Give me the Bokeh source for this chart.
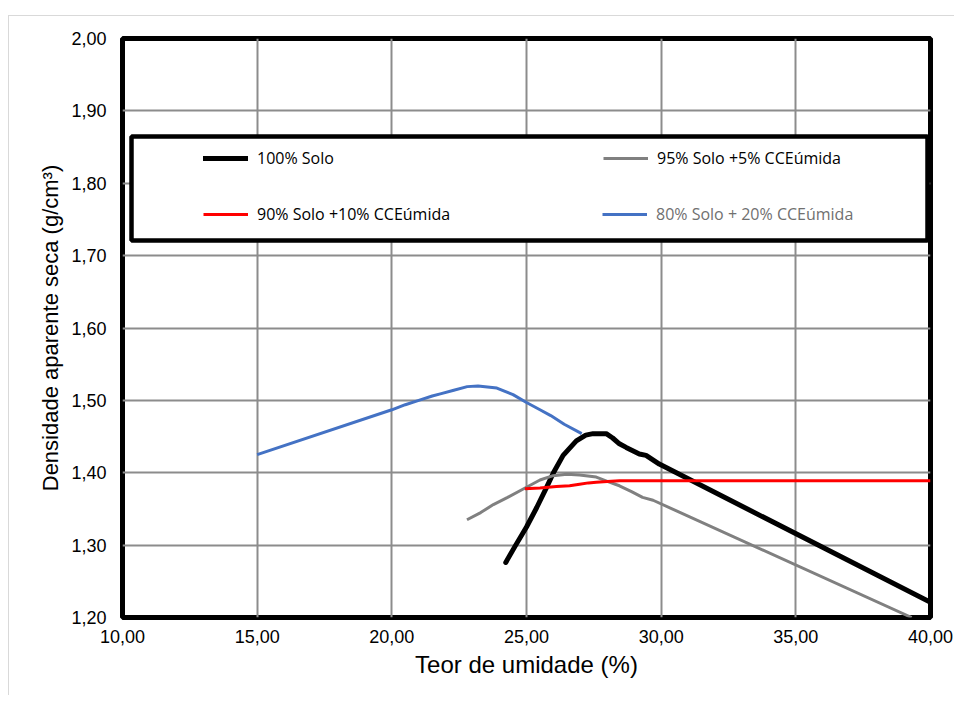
from bokeh.plotting import figure
from bokeh.models import (FixedTicker, Legend, LegendItem, BoxAnnotation, Range1d)
from bokeh.embed import file_html
from bokeh.resources import INLINE

# ---- data ----
solo_x = [24.23, 24.6, 25.0, 25.38, 25.75, 26.0, 26.36, 26.85, 27.2, 27.47, 27.96, 28.2, 28.45, 28.7, 29.19, 29.44, 29.93, 40.0]
solo_y = [1.276, 1.300, 1.325, 1.352, 1.380, 1.400, 1.424, 1.444, 1.452, 1.454, 1.454, 1.448, 1.440, 1.435, 1.426, 1.424, 1.412, 1.221]

s95_x = [22.79, 23.3, 23.77, 24.3, 25.0, 25.5, 25.99, 26.5, 26.97, 27.59, 28.0, 28.45, 28.9, 29.31, 29.7, 39.3]
s95_y = [1.335, 1.345, 1.356, 1.366, 1.380, 1.390, 1.396, 1.398, 1.397, 1.394, 1.388, 1.382, 1.374, 1.366, 1.362, 1.200]

s90_x = [24.94, 25.5, 26.11, 26.6, 26.97, 27.3, 27.59, 28.0, 28.45, 40.0]
s90_y = [1.378, 1.379, 1.381, 1.382, 1.384, 1.386, 1.387, 1.388, 1.389, 1.389]

s80_x = [15.0, 20.0, 20.5, 21.0, 21.5, 21.8, 22.3, 22.8, 23.2, 23.9, 24.5, 25.0, 25.5, 25.9, 26.4, 27.05]
s80_y = [1.425, 1.487, 1.494, 1.500, 1.506, 1.509, 1.514, 1.519, 1.520, 1.517, 1.508, 1.497, 1.487, 1.479, 1.467, 1.454]

x_ticks = [10, 15, 20, 25, 30, 35, 40]
x_tick_labels = ["10,00", "15,00", "20,00", "25,00", "30,00", "35,00", "40,00"]
y_ticks = [1.2, 1.3, 1.4, 1.5, 1.6, 1.7, 1.8, 1.9, 2.0]
y_tick_labels = ["1,20", "1,30", "1,40", "1,50", "1,60", "1,70", "1,80", "1,90", "2,00"]

labels = ["100% Solo", "95% Solo +5% CCEúmida", "90% Solo +10% CCEúmida", "80% Solo + 20% CCEúmida"]

# ---- figure ----
p = figure(width=946, height=680, output_backend="svg", toolbar_location=None,
           x_range=Range1d(10, 40), y_range=Range1d(1.2, 2.0),
           min_border_left=113, min_border_right=25, min_border_top=22, min_border_bottom=79,
           styles={"position": "absolute", "left": "8px", "top": "15px",
                   "border-top": "1px solid #d9d9d9",
                   "border-left": "1px solid #d9d9d9"})
p.background_fill_color = "white"
p.border_fill_color = "white"
p.outline_line_color = "black"
p.outline_line_width = 5

p.xaxis.ticker = FixedTicker(ticks=x_ticks)
p.yaxis.ticker = FixedTicker(ticks=y_ticks)
p.xaxis.major_label_overrides = {float(t): l for t, l in zip(x_ticks, x_tick_labels)}
p.yaxis.major_label_overrides = {float(t): l for t, l in zip(y_ticks, y_tick_labels)}

for ax in (p.xaxis, p.yaxis):
    ax.axis_line_color = None
    ax.major_tick_line_color = None
    ax.minor_tick_line_color = None
    ax.major_tick_out = 0
    ax.major_tick_in = 0
    ax.major_label_text_font = "Liberation Sans"
    ax.major_label_text_font_size = "18px"
    ax.major_label_text_color = "black"
    ax.axis_label_text_font = "Liberation Sans"
    ax.axis_label_text_font_style = "normal"
    ax.axis_label_text_color = "black"

p.xaxis.axis_label = "Teor de umidade (%)"
p.yaxis.axis_label = "Densidade aparente seca (g/cm³)"
p.xaxis.axis_label_text_font_size = "24px"
p.yaxis.axis_label_text_font_size = "22px"
p.xaxis.major_label_standoff = 12
p.yaxis.major_label_standoff = 16
p.xaxis.axis_label_standoff = 5
p.yaxis.axis_label_standoff = 5

p.xgrid.grid_line_color = "#8c8c8c"
p.ygrid.grid_line_color = "#8c8c8c"
p.xgrid.grid_line_width = 2
p.ygrid.grid_line_width = 2

r_solo = p.line(solo_x, solo_y, line_color="black", line_width=5, line_join="round", line_cap="round")
r_95 = p.line(s95_x, s95_y, line_color="#808080", line_width=3, line_join="round")
r_90 = p.line(s90_x, s90_y, line_color="#ff0000", line_width=3, line_join="round")
r_80 = p.line(s80_x, s80_y, line_color="#4472c4", line_width=3, line_join="round")

# legend frame
box = BoxAnnotation(left=9, right=805, top=481, bottom=377,
                    left_units="screen", right_units="screen",
                    top_units="screen", bottom_units="screen",
                    fill_color="white", fill_alpha=1.0,
                    line_color="black", line_width=4.5, line_alpha=1.0)
p.add_layout(box)

common = dict(glyph_width=45, glyph_height=20, label_height=20, label_width=312,
              label_standoff=9, spacing=34, padding=0, margin=0,
              border_line_color=None, background_fill_alpha=0,
              label_text_font="Open Sans", label_text_font_size="16px")

leg1 = Legend(items=[LegendItem(label=labels[0], renderers=[r_solo]),
                     LegendItem(label=labels[1], renderers=[r_95]),
                     LegendItem(label=labels[2], renderers=[r_90])],
              orientation="horizontal", ncols=2, location=(81, 392),
              label_text_color="black", **common)
leg2 = Legend(items=[LegendItem(label=labels[3], renderers=[r_80])],
              orientation="horizontal", location=(480, 392),
              label_text_color="#707070", **common)
p.add_layout(leg1, "center")
p.add_layout(leg2, "center")

open("out.html", "w").write(file_html(p, INLINE))
